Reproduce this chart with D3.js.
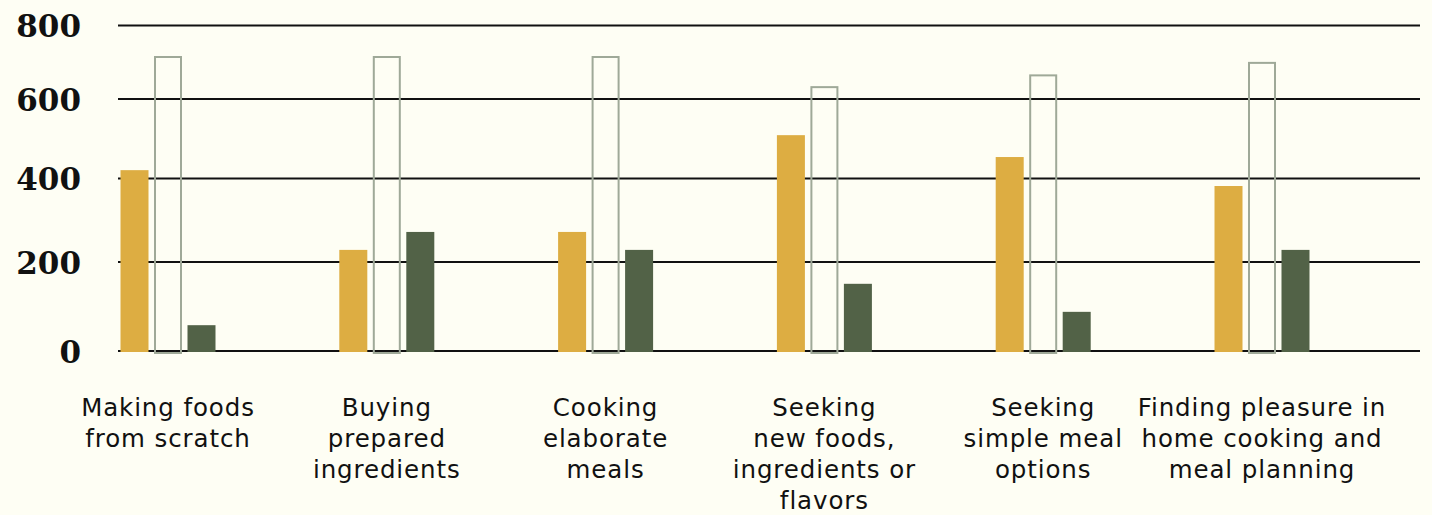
<!DOCTYPE html>
<html>
<head>
<meta charset="utf-8">
<script src="https://cdn.jsdelivr.net/npm/d3@7"></script>
<style>
  html, body { margin: 0; padding: 0; background: #fefef4; }
  svg { display: block; }
</style>
</head>
<body>
<svg id="chart" width="1432" height="515"></svg>
<script>
// Category labels (line breaks mark where each label wraps)
const categories = [
  "Making foods\nfrom scratch",
  "Buying\nprepared\ningredients",
  "Cooking\nelaborate\nmeals",
  "Seeking\nnew foods,\ningredients or\nflavors",
  "Seeking\nsimple meal\noptions",
  "Finding pleasure in\nhome cooking and\nmeal planning"
];

// Series values per category
const increased = [421, 229, 272, 509, 454, 382];
const surveyed  = [717, 717, 717, 635, 667, 701];
const decreased = [58, 272, 229, 151, 88, 229];

// Value-axis tick labels
const yTicks = [0, 200, 400, 600, 800];

const seriesKeys = ["increased", "surveyed", "decreased"];
const seriesValues = { increased, surveyed, decreased };

// ---- layout & style ----
const gridLeft = 118, gridRight = 1420;
const groupFirst = 168, groupLast = 1262;
const groupWidth = 95;
// vertical stops of the value axis, one per tick
const yStops = [351, 262, 178.5, 99, 25.5];

const colors = {
  increased: "#ddad42",
  surveyed: "#9fa998",
  decreased: "#526247"
};

const svg = d3.select("#chart");

const x = d3.scalePoint().domain(categories).range([groupFirst, groupLast]);
const xInner = d3.scaleBand().domain(seriesKeys).range([0, groupWidth]).paddingInner(0.164);
const y = d3.scaleLinear().domain(yTicks).range(yStops);

// gridlines
svg.append("g").attr("class", "grid")
  .selectAll("line")
  .data(yTicks)
  .join("line")
  .attr("x1", gridLeft)
  .attr("x2", gridRight)
  .attr("y1", d => y(d))
  .attr("y2", d => y(d))
  .attr("stroke", "#111")
  .attr("stroke-width", 2);

// value-axis labels
const yAxis = d3.axisLeft(y).tickValues(yTicks).tickSize(0).tickPadding(0).tickFormat(d3.format("d"));
const yAxisG = svg.append("g")
  .attr("transform", "translate(81,0)")
  .call(yAxis);
yAxisG.select(".domain").remove();
yAxisG.selectAll("text")
  .attr("font-family", "'DejaVu Serif', serif")
  .attr("font-weight", "bold")
  .attr("font-size", 31)
  .attr("fill", "#111")
  .attr("dy", "0.36em");

// bars
const rows = categories.map((c, i) => ({
  category: c,
  values: seriesKeys.map(k => ({ key: k, value: seriesValues[k][i] }))
}));

const groups = svg.append("g").attr("class", "bars")
  .selectAll("g")
  .data(rows)
  .join("g")
  .attr("transform", d => `translate(${x(d.category) - groupWidth / 2},0)`);

groups.selectAll("rect")
  .data(d => d.values)
  .join("rect")
  .attr("x", d => d.key === "surveyed" ? xInner(d.key) + 1 : xInner(d.key))
  .attr("width", d => d.key === "surveyed" ? xInner.bandwidth() - 2 : xInner.bandwidth())
  .attr("y", d => d.key === "surveyed" ? y(d.value) + 1 : y(d.value))
  .attr("height", d => y(0) - y(d.value) + 1)
  .attr("fill", d => d.key === "surveyed" ? "none" : colors[d.key])
  .attr("stroke", d => d.key === "surveyed" ? colors.surveyed : "none")
  .attr("stroke-width", 2);

// category labels
const labels = svg.append("g").attr("class", "x-labels")
  .selectAll("text")
  .data(categories)
  .join("text")
  .attr("x", d => x(d))
  .attr("y", 416)
  .attr("text-anchor", "middle")
  .attr("font-family", "'DejaVu Sans', sans-serif")
  .attr("font-size", 24.5)
  .attr("letter-spacing", 0.9)
  .attr("fill", "#111");

labels.selectAll("tspan")
  .data(d => d.split("\n"))
  .join("tspan")
  .attr("x", function () { return d3.select(this.parentNode).attr("x"); })
  .attr("dy", (d, i) => i === 0 ? 0 : 31)
  .text(d => d);
</script>
</body>
</html>
